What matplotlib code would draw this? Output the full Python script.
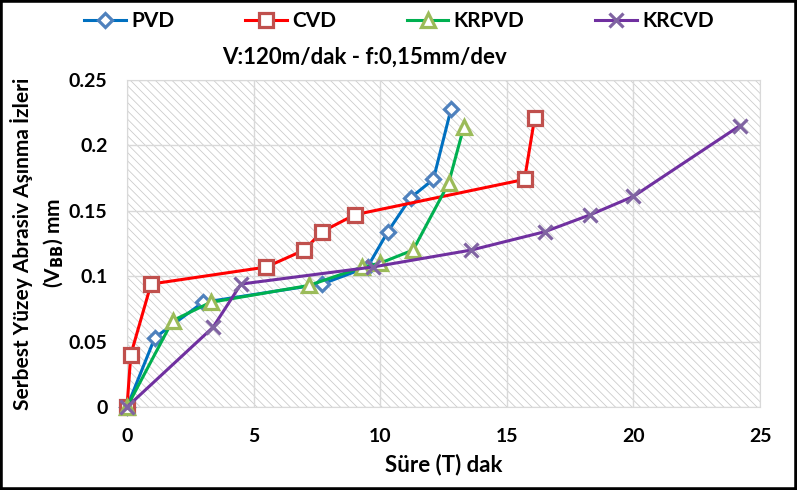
import matplotlib
matplotlib.use("Agg")
import matplotlib.pyplot as plt
from matplotlib.patches import Rectangle

# data
pvd_t = [0, 1.1, 3.0, 7.7, 9.5, 10.3, 11.2, 12.1, 12.8]
pvd_vb = [0, 0.053, 0.080, 0.094, 0.107, 0.134, 0.160, 0.174, 0.228]

cvd_t = [0, 0.15, 0.95, 5.5, 7.0, 7.7, 9.0, 15.7, 16.1]
cvd_vb = [0, 0.040, 0.094, 0.107, 0.120, 0.134, 0.147, 0.174, 0.221]

krpvd_t = [0, 1.8, 3.3, 7.2, 9.3, 10.0, 11.3, 12.7, 13.3]
krpvd_vb = [0, 0.066, 0.080, 0.093, 0.107, 0.110, 0.120, 0.171, 0.214]

krcvd_t = [0, 3.4, 4.5, 9.7, 13.6, 16.5, 18.3, 20.0, 24.2]
krcvd_vb = [0, 0.061, 0.094, 0.107, 0.120, 0.134, 0.147, 0.161, 0.215]

xticks = [0, 5, 10, 15, 20, 25]
yticks = [0, 0.05, 0.1, 0.15, 0.2, 0.25]
ylabels = ["0", "0.05", "0.1", "0.15", "0.2", "0.25"]

plt.rcParams["font.family"] = ["Lato", "DejaVu Sans"]
plt.rcParams["font.weight"] = "bold"
plt.rcParams["hatch.linewidth"] = 0.6

fig = plt.figure(figsize=(7.97, 4.90), dpi=100)
ax = fig.add_axes([127 / 797, 1 - 407 / 490, (760 - 127) / 797, (407 - 80) / 490])

# hatched plot area
ax.add_patch(Rectangle((0, 0), 1, 1, transform=ax.transAxes, facecolor="white",
                       edgecolor="#cccccc", hatch="\\\\\\\\", linewidth=0, zorder=0))

series = [
    ("PVD", pvd_t, pvd_vb, "#0070c0", "#4f81bd", "D", 7),
    ("CVD", cvd_t, cvd_vb, "#ff0000", "#c0504d", "s", 9.5),
    ("KRPVD", krpvd_t, krpvd_vb, "#00b050", "#9bbb59", "^", 10),
    ("KRCVD", krcvd_t, krcvd_vb, "#7030a0", "#8064a2", "x", 10),
]
for name, t, vb, lc, mc, mk, ms in series:
    ax.plot(t, vb, color=lc, lw=2.2, marker=mk, ms=ms, mfc="white", mec=mc,
            mew=2.3, label=name, zorder=3, clip_on=False)

ax.set_xlim(0, 25)
ax.set_ylim(0, 0.25)
ax.set_xticks(xticks)
ax.set_yticks(yticks)
ax.set_yticklabels(ylabels)
ax.tick_params(length=0, labelsize=14)
ax.tick_params(axis="y", pad=14)
ax.tick_params(axis="x", pad=15)
ax.grid(color="#d9d9d9", lw=1)
ax.set_axisbelow(True)
for s in ax.spines.values():
    s.set_color("#d9d9d9")

ax.set_xlabel("Süre (T) dak", fontsize=16, fontweight="bold", labelpad=6)
ax.set_ylabel("Serbest Yüzey Abrasiv Aşınma İzleri\n(V$_{\\mathbf{BB}}$) mm",
              fontsize=15, fontweight="bold", labelpad=2, linespacing=1.45)
fig.text(365 / 797, 1 - 57 / 490, "V:120m/dak - f:0,15mm/dev", fontsize=16,
         fontweight="bold", ha="center", va="center")

fig.legend(loc="center", bbox_to_anchor=(399 / 797, 1 - 21 / 490), ncol=4,
           frameon=False, handlelength=2.0, columnspacing=3.4,
           handletextpad=0.25, prop={"weight": "bold", "size": 15})

fig.patches.append(Rectangle((0, 0), 1, 1, transform=fig.transFigure, fill=False,
                             edgecolor="black", linewidth=4))

fig.savefig("out.png", dpi=100)
